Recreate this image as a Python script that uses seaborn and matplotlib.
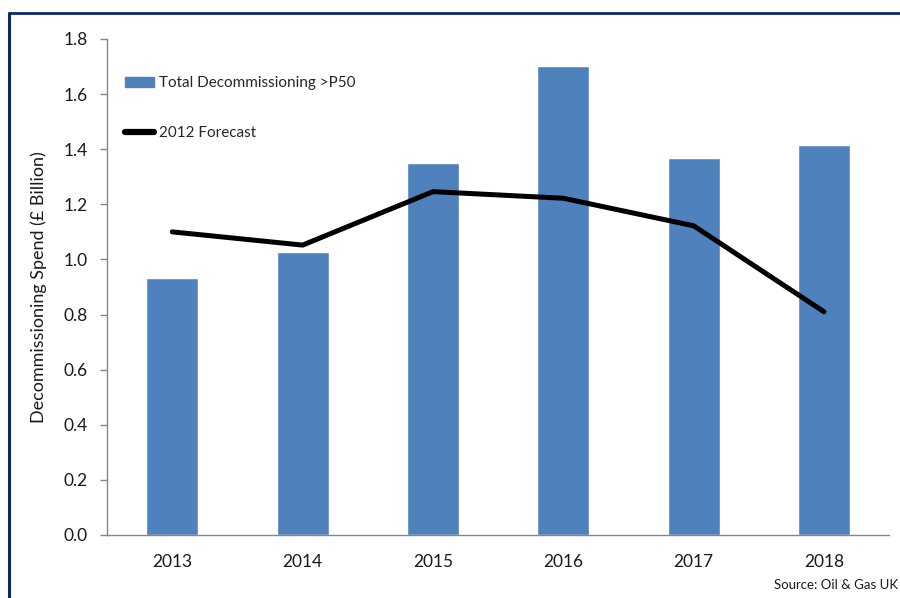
import numpy as np
import pandas as pd
import matplotlib
matplotlib.use("Agg")
import matplotlib.pyplot as plt
from matplotlib.lines import Line2D
import seaborn as sns

years = ["2013", "2014", "2015", "2016", "2017", "2018"]
total_decommissioning = [0.934, 1.028, 1.349, 1.703, 1.367, 1.414]
forecast_2012 = [1.10, 1.052, 1.246, 1.222, 1.122, 0.81]
y_ticks = [0.0, 0.2, 0.4, 0.6, 0.8, 1.0, 1.2, 1.4, 1.6, 1.8]

bar_label = "Total Decommissioning >P50"
line_label = "2012 Forecast"

sns.set_style("white")
plt.rcParams["font.family"] = ["Lato", "DejaVu Sans"]

df = pd.DataFrame({"year": years, "total": total_decommissioning,
                   "forecast": forecast_2012})
df["pos"] = np.arange(len(years))

fig = plt.figure(figsize=(9.0, 5.98), dpi=100)
ax = fig.add_axes([0.119, 0.1054, 0.869, 0.8294])

sns.barplot(data=df, x="year", y="total", color="#4f81bd", saturation=1,
            width=0.4, ax=ax, label=bar_label)
sns.lineplot(data=df, x="pos", y="forecast", color="black", linewidth=3.6,
             ax=ax, label=line_label)

grey = "#868686"
text_col = "#1a1a1a"
ax.set_xlim(-0.5, len(years) - 0.5)
ax.set_ylim(0, 1.8)
ax.set_yticks(y_ticks)
ax.set_yticklabels([f"{v:.1f}" for v in y_ticks])
ax.set_xticks(df["pos"])
ax.set_xticklabels(years)
ax.set_xticks(np.arange(-0.5, len(years)), minor=True)
ax.tick_params(axis="x", which="major", length=0, pad=14, labelsize=12.5,
               labelcolor=text_col)
ax.tick_params(axis="x", which="minor", length=5, width=1, color=grey,
               direction="out")
ax.tick_params(axis="y", length=5, width=1, color=grey, direction="out",
               pad=9, labelsize=12.5, labelcolor=text_col, left=True)
ax.set_xlabel("")
ax.set_ylabel("Decommissioning Spend (£ Billion)", fontsize=13,
              color=text_col, labelpad=12)

for side in ("top", "right"):
    ax.spines[side].set_visible(False)
for side in ("left", "bottom"):
    ax.spines[side].set_color(grey)
    ax.spines[side].set_linewidth(1)

handles = [plt.Rectangle((0, 0), 1, 1, color="#4f81bd"),
           Line2D([0], [0], color="black", linewidth=4.5)]
ax.legend(handles, [bar_label, line_label], loc="upper left",
          bbox_to_anchor=(0.015, 0.937), frameon=False, fontsize=11,
          labelspacing=2.35, handlelength=1.9, handleheight=0.7,
          handletextpad=0.3, borderaxespad=0)

fig.text(0.998, 0.011, "Source: Oil & Gas UK", ha="right", va="bottom",
         fontsize=9.5, color=text_col)

# navy frame across the top and down the left edge
navy = "#0b2a6e"
fig.add_artist(Line2D([0.0105, 1.0], [0.979, 0.979], color=navy,
                      linewidth=2, transform=fig.transFigure))
fig.add_artist(Line2D([0.0105, 0.0105], [0.0, 0.979], color=navy,
                      linewidth=2.2, transform=fig.transFigure))

fig.savefig("out.png", dpi=100)
